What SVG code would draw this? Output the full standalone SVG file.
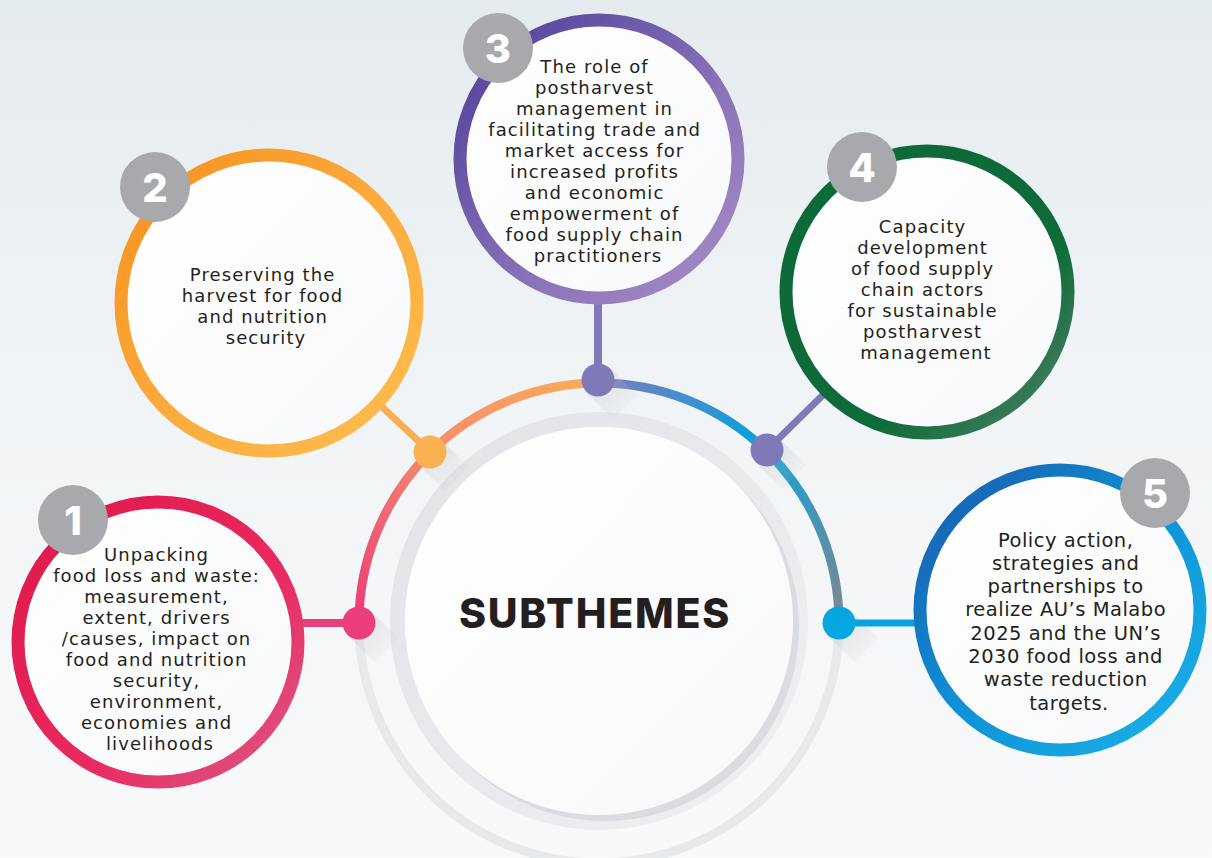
<svg xmlns="http://www.w3.org/2000/svg" width="1212" height="858" viewBox="0 0 1212 858">
<defs>
  <linearGradient id="bg" x1="0" y1="0" x2="0" y2="1">
    <stop offset="0" stop-color="#e4ebee"/>
    <stop offset="0.45" stop-color="#f1f4f6"/>
    <stop offset="1" stop-color="#f8f9fa"/>
  </linearGradient>
  <linearGradient id="g1" x1="0" y1="0" x2="1" y2="1">
    <stop offset="0" stop-color="#df1748"/>
    <stop offset="0.6" stop-color="#e92a62"/>
    <stop offset="1" stop-color="#dc5a86"/>
  </linearGradient>
  <linearGradient id="g2" x1="0" y1="0" x2="1" y2="1">
    <stop offset="0" stop-color="#f6901c"/>
    <stop offset="0.55" stop-color="#fbad3f"/>
    <stop offset="1" stop-color="#fdbe4e"/>
  </linearGradient>
  <linearGradient id="g3" x1="0" y1="0" x2="1" y2="1">
    <stop offset="0" stop-color="#4c3d96"/>
    <stop offset="0.6" stop-color="#8a73b9"/>
    <stop offset="1" stop-color="#a78dc6"/>
  </linearGradient>
  <linearGradient id="g4" x1="0" y1="0" x2="1" y2="1">
    <stop offset="0" stop-color="#0c6a37"/>
    <stop offset="0.65" stop-color="#0f6b3a"/>
    <stop offset="1" stop-color="#4f8266"/>
  </linearGradient>
  <linearGradient id="g5" x1="0" y1="0" x2="1" y2="1">
    <stop offset="0" stop-color="#1a5aaa"/>
    <stop offset="0.5" stop-color="#0f92d8"/>
    <stop offset="1" stop-color="#1ab3e8"/>
  </linearGradient>
  <linearGradient id="arcL" x1="0" y1="1" x2="1" y2="0">
    <stop offset="0" stop-color="#ec3b7a"/>
    <stop offset="0.5" stop-color="#f58a6c"/>
    <stop offset="1" stop-color="#f9ad5a"/>
  </linearGradient>
  <linearGradient id="arcR" x1="0" y1="0" x2="1" y2="1">
    <stop offset="0" stop-color="#7b7cc0"/>
    <stop offset="0.45" stop-color="#05a2de"/>
    <stop offset="1" stop-color="#808890"/>
  </linearGradient>
  <linearGradient id="band" x1="0" y1="0" x2="1" y2="1">
    <stop offset="0" stop-color="#e1e3e7"/>
    <stop offset="1" stop-color="#eef0f2"/>
  </linearGradient>
  <linearGradient id="disk" x1="0" y1="0" x2="1" y2="1">
    <stop offset="0" stop-color="#ffffff"/>
    <stop offset="1" stop-color="#f7f8f9"/>
  </linearGradient>
  <linearGradient id="shade" x1="0" y1="0" x2="1" y2="1">
    <stop offset="0" stop-color="#b9bdc2" stop-opacity="0.4"/>
    <stop offset="1" stop-color="#b9bdc2" stop-opacity="0"/>
  </linearGradient>
</defs>
<style>
  .ring { fill: url(#disk); stroke-width: 13; }
  .under { fill: #d3d6da; }
  .badge { fill: #a7a9ac; }
  .num { font-family: "Inter", "Liberation Sans", sans-serif; font-weight: 800; font-size: 40px; fill: #ffffff; text-anchor: middle; }
  .txt { font-family: "DejaVu Sans", "Liberation Sans", sans-serif; font-size: 18px; letter-spacing: 1.1px; fill: #231f20; text-anchor: middle; }
  .txt5 { font-size: 19.5px; letter-spacing: 0.5px; }
  .title { font-family: "Inter", "Liberation Sans", sans-serif; font-weight: 800; font-size: 41px; fill: #231f20; text-anchor: middle; letter-spacing: 1.8px; }
  .conn { fill: none; stroke-linecap: butt; }
  .shd { fill: url(#shade); }
</style>

<rect width="1212" height="858" fill="url(#bg)"/>

<!-- hub -->
<g id="hub">
  <circle cx="599" cy="623" r="240" fill="none" stroke="#e7eaed" stroke-width="9"/>
  <circle cx="599" cy="621" r="201.5" fill="none" stroke="url(#band)" stroke-width="15"/>
  <circle cx="605" cy="627" r="194" fill="#d9dce0"/>
  <circle cx="599" cy="621" r="194" fill="url(#disk)"/>
  <path d="M 359 623 A 240 240 0 0 1 599 383" fill="none" stroke="url(#arcL)" stroke-width="9"/>
  <path d="M 599 383 A 240 240 0 0 1 839 623" fill="none" stroke="url(#arcR)" stroke-width="9"/>
  <text class="title" x="595" y="628">SUBTHEMES</text>
</g>

<!-- connectors -->
<g id="connectors">
  <polygon class="shd" points="371,611 398,638 374,662 347,635"/>
  <polygon class="shd" points="442,440 469,467 445,491 418,464"/>
  <polygon class="shd" points="610,368 637,395 613,419 586,392"/>
  <polygon class="shd" points="779,438 806,465 782,489 755,462"/>
  <polygon class="shd" points="851,611 878,638 854,662 827,635"/>
  <line class="conn" x1="359" y1="623" x2="300" y2="623" stroke="#e8407a" stroke-width="8"/>
  <line class="conn" x1="430" y1="452" x2="380" y2="405" stroke="#f8ae55" stroke-width="7"/>
  <line class="conn" x1="598" y1="380" x2="598" y2="300" stroke="#8079b8" stroke-width="8"/>
  <line class="conn" x1="767" y1="450" x2="825" y2="393" stroke="#8079b8" stroke-width="7"/>
  <line class="conn" x1="839" y1="623" x2="918" y2="623" stroke="#0aa3e0" stroke-width="7"/>
  <circle cx="359" cy="623" r="16.5" fill="#ec3d7c"/>
  <circle cx="430" cy="452" r="16.5" fill="#f9b152"/>
  <circle cx="598" cy="380" r="16.5" fill="#8079b8"/>
  <circle cx="767" cy="450" r="16.5" fill="#8079b8"/>
  <circle cx="839" cy="623" r="16.5" fill="#06a6e2"/>
</g>

<!-- node 1 -->
<g id="node1">
  <circle class="under" cx="161" cy="645" r="134"/>
  <circle class="ring" cx="158" cy="642" r="140" stroke="url(#g1)"/>
  <circle class="badge" cx="73" cy="520" r="35"/>
  <text class="num" x="73" y="535">1</text>
  <text class="txt">
    <tspan x="160" y="561">Unpacking</tspan>
    <tspan x="160" y="582">food loss and waste:</tspan>
    <tspan x="160" y="603">measurement,</tspan>
    <tspan x="160" y="624">extent, drivers</tspan>
    <tspan x="160" y="645">/causes, impact on</tspan>
    <tspan x="160" y="666">food and nutrition</tspan>
    <tspan x="160" y="687">security,</tspan>
    <tspan x="160" y="708">environment,</tspan>
    <tspan x="160" y="729">economies and</tspan>
    <tspan x="160" y="750">livelihoods</tspan>
  </text>
</g>

<!-- node 2 -->
<g id="node2">
  <circle class="under" cx="272" cy="306" r="142"/>
  <circle class="ring" cx="269" cy="303" r="148" stroke="url(#g2)"/>
  <circle class="badge" cx="155" cy="187" r="35"/>
  <text class="num" x="155" y="202">2</text>
  <text class="txt">
    <tspan x="266" y="281">Preserving the</tspan>
    <tspan x="266" y="302">harvest for food</tspan>
    <tspan x="266" y="323">and nutrition</tspan>
    <tspan x="266" y="344">security</tspan>
  </text>
</g>

<!-- node 3 -->
<g id="node3">
  <circle class="under" cx="602" cy="162" r="133"/>
  <circle class="ring" cx="599" cy="159" r="139" stroke="url(#g3)"/>
  <circle class="badge" cx="498" cy="48" r="35"/>
  <text class="num" x="498" y="63">3</text>
  <text class="txt">
    <tspan x="598" y="73">The role of</tspan>
    <tspan x="598" y="94">postharvest</tspan>
    <tspan x="598" y="115">management in</tspan>
    <tspan x="598" y="136">facilitating trade and</tspan>
    <tspan x="598" y="157">market access for</tspan>
    <tspan x="598" y="178">increased profits</tspan>
    <tspan x="598" y="199">and economic</tspan>
    <tspan x="598" y="220">empowerment of</tspan>
    <tspan x="598" y="241">food supply chain</tspan>
    <tspan x="598" y="262">practitioners</tspan>
  </text>
</g>

<!-- node 4 -->
<g id="node4">
  <circle class="under" cx="930" cy="295" r="135"/>
  <circle class="ring" cx="927" cy="292" r="141" stroke="url(#g4)"/>
  <circle class="badge" cx="862" cy="167" r="35"/>
  <text class="num" x="862" y="182">4</text>
  <text class="txt">
    <tspan x="926" y="233">Capacity</tspan>
    <tspan x="926" y="254">development</tspan>
    <tspan x="926" y="275">of food supply</tspan>
    <tspan x="926" y="296">chain actors</tspan>
    <tspan x="926" y="317">for sustainable</tspan>
    <tspan x="926" y="338">postharvest</tspan>
    <tspan x="926" y="359">management</tspan>
  </text>
</g>

<!-- node 5 -->
<g id="node5">
  <circle class="under" cx="1063" cy="613" r="134"/>
  <circle class="ring" cx="1060" cy="610" r="140" stroke="url(#g5)"/>
  <circle class="badge" cx="1155" cy="493" r="35"/>
  <text class="num" x="1155" y="508">5</text>
  <text class="txt txt5">
    <tspan x="1069" y="547">Policy action,</tspan>
    <tspan x="1069" y="570">strategies and</tspan>
    <tspan x="1069" y="593">partnerships to</tspan>
    <tspan x="1069" y="616">realize AU’s Malabo</tspan>
    <tspan x="1069" y="640">2025 and the UN’s</tspan>
    <tspan x="1069" y="663">2030 food loss and</tspan>
    <tspan x="1069" y="686">waste reduction</tspan>
    <tspan x="1069" y="710">targets.</tspan>
  </text>
</g>
</svg>
